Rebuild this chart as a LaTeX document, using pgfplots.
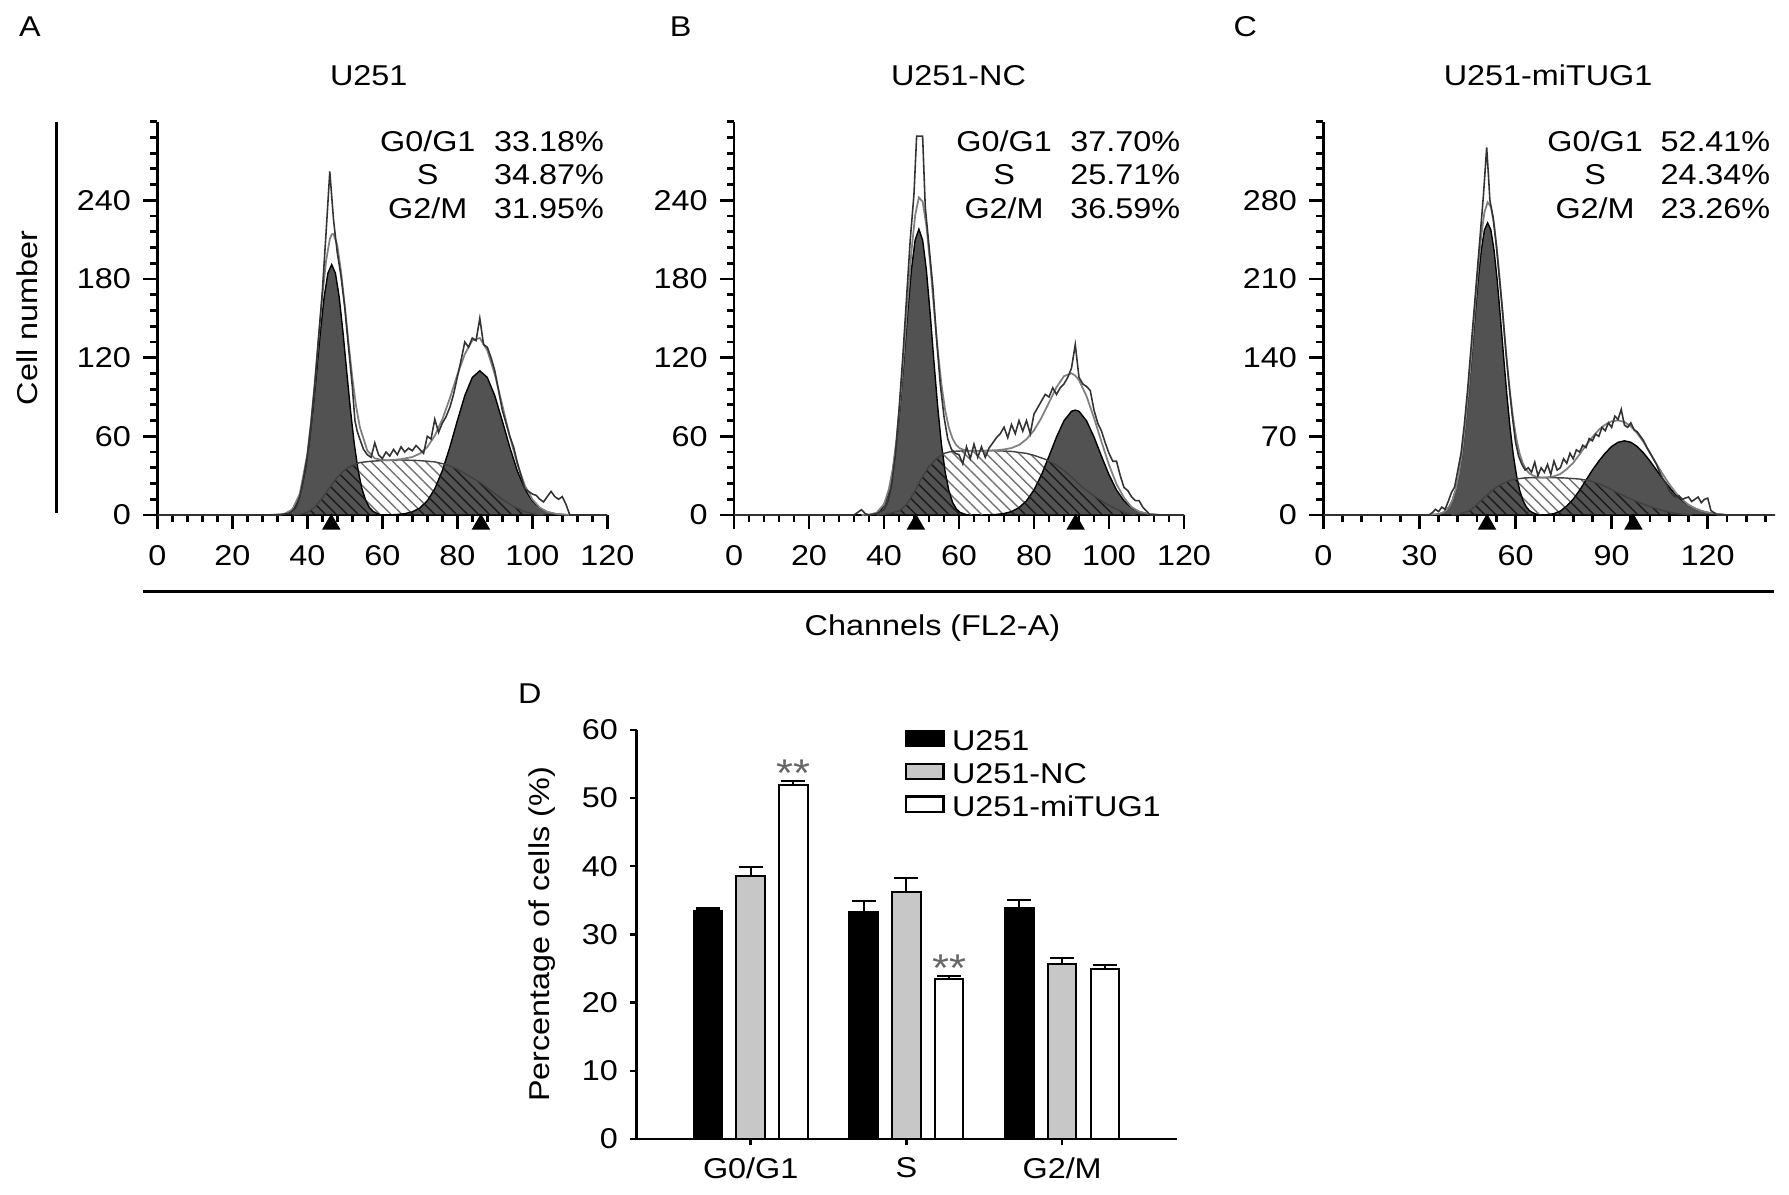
\documentclass[border=0pt]{standalone}
\usepackage{fontspec}
\setmainfont{Liberation Sans}[FakeStretch=1.13]
\usepackage{pgfplots}
\pgfplotsset{compat=1.18}
\usetikzlibrary{patterns.meta}
\definecolor{dk}{gray}{0.32}
\definecolor{ncgray}{gray}{0.78}
\newcommand\f{\fontsize{8.15}{9.6}\selectfont}
\pgfplotsset{
 hist/.style={scale only axis, width=4.5cm, height=3.933cm, anchor=south west,
  axis x line=bottom, axis y line=left, axis line style={-,line width=0.8pt},
  tick align=outside, major tick length=0.14cm, minor tick length=0.07cm,
  tick style={black,line width=0.8pt},
  xmin=0,xmax=120,ymin=0,ymax=300,
  xtick={0,20,...,120}, minor xtick={4,8,...,116},
  ytick={0,60,...,240}, minor ytick={12,24,...,300},
  tick label style={font=\f}, xticklabel style={yshift=-0.045cm}, /pgf/number format/assume math mode=true,
  clip=false},
 shat/.style={draw=none, pattern={Lines[angle=-45,distance=2.2pt,line width=0.4pt]}, pattern color=black!55},
 ohat/.style={draw=none, pattern={Lines[angle=-45,distance=2.2pt,line width=0.4pt]}, pattern color=black!90},
 gpk/.style={fill=dk, draw=black, line width=0.4pt},
 sline/.style={draw=black!75, line width=0.4pt},
 fitl/.style={draw=black!50, line width=0.5pt},
 rawl/.style={draw=black!80, line width=0.45pt},
 tri/.style={only marks, mark=triangle*, mark size=2.65pt, black},
 lgbox/.style={legend image code/.code={\draw[##1] (0cm,-0.0585cm) rectangle (0.377cm,0.0945cm);}},
 bstyle/.style={ybar, bar width=0.285cm, bar shift=0pt, draw=black, line width=0.6pt, lgbox,
  error bars/.cd, y dir=plus, y explicit, error bar style={line width=0.6pt,black}, error mark options={rotate=90,mark size=3.4pt,line width=0.6pt,black}},
}
\begin{document}
\begin{tikzpicture}[font=\f]
\path[use as bounding box] (0,0) rectangle (17.89,11.95);

% ---------------- Panel A ----------------
\begin{axis}[hist, at={(1.573cm,6.80cm)}]
\addplot[shat] coordinates {(36,0)(38,0.5)(40,2)(42,6)(44,13)(46,21)(48,29)(50,34.5)(52,38)(54,40)(57,41)(60,41.5)(65,42)(70,41.5)(74,40.5)(77,38.5)(80,35)(83,30)(86,25)(89,18.5)(92,12)(95,6.5)(98,2.5)(101,0.5)(103,0)} \closedcycle;
\addplot[gpk] coordinates {(33.5,0)(34.5,1.3)(35.5,2.9)(36.5,6.0)(37.5,11.6)(38.5,20.8)(39.5,35.0)(40.5,54.9)(41.5,80.4)(42.5,109.8)(43.5,139.9)(44.5,166.3)(45.5,184.5)(46.5,191)(47.5,184.5)(48.5,166.3)(49.5,139.9)(50.5,109.8)(51.5,80.4)(52.5,54.9)(53.5,35.0)(54.5,20.8)(55.5,11.6)(56.5,6.0)(57.5,2.9)(58.5,1.3)(59.5,0)} \closedcycle;
\addplot[gpk] coordinates {(62,0)(64,0.4)(66,1.0)(68,2.4)(70,5.3)(72,10.8)(74,20.0)(76,33.7)(78,51.6)(80,71.8)(82,91.0)(84,104.9)(86,110)(88,104.9)(90,91.0)(92,71.8)(94,51.6)(96,33.7)(98,20.0)(100,10.8)(102,5.3)(104,2.4)(106,1.0)(108,0.4)(110,0)} \closedcycle;
\addplot[ohat] coordinates {(36,0)(38,0.5)(40,2)(42,6)(44,13)(46,21)(48,29)(50,34.5)(52,38)(53.2,39.2)(53.5,35.0)(54.5,20.8)(55.5,11.6)(56.5,6.0)(57.5,2.9)(58.5,1.3)(59.5,0)} \closedcycle;
\addplot[ohat] coordinates {(62,0)(64,0.4)(66,1.0)(68,2.4)(70,5.3)(72,10.8)(74,20.0)(76,33.7)(76.7,38.8)(77,38.5)(80,35)(83,30)(86,25)(89,18.5)(92,12)(95,6.5)(98,2.5)(101,0.5)(103,0)} \closedcycle;
\addplot[sline] coordinates {(36,0)(38,0.5)(40,2)(42,6)(44,13)(46,21)(48,29)(50,34.5)(52,38)(54,40)(57,41)(60,41.5)(65,42)(70,41.5)(74,40.5)(77,38.5)(80,35)(83,30)(86,25)(89,18.5)(92,12)(95,6.5)(98,2.5)(101,0.5)(103,0)};
\addplot[fitl] coordinates {(30,0)(34,0.9)(36,4.2)(38,16.1)(40,46.2)(41,71)(42,100.7)(43,134.5)(44,166.8)(45,193.7)(46,210.4)(46.5,214)(47,214.4)(48,205.7)(49,185.6)(50,159.5)(51,131)(52,105)(53,83.2)(54,67.2)(56,49.1)(58,43.2)(60,41.9)(62,41.8)(65,42.6)(68,44.2)(70,46.8)(72,51.8)(74,60.5)(76,72.9)(78,88.9)(80,106.8)(82,122.7)(84,133.2)(86,135)(88,125.6)(90,107.3)(92,83.8)(94,59.9)(96,38.9)(98,22.5)(100,12)(102,5.6)(104,2.4)(106,1.0)(108,0.4)(110,0)};
\addplot[rawl] coordinates {(0,0)(33,0)(34,1)(35,1)(36,3)(37,6)(38,14)(39,28)(40,45)(41,70)(42,100)(43,135)(44,170)(45,215)(46,262)(47,225)(48,200)(49,182)(50,158)(51,128)(52,98)(52.7,72)(53.3,64)(54,58)(55,50)(56,46)(57,44)(58,55)(59,46)(60,43)(61,48)(62,45)(63,50)(64,46)(65,52)(66,48)(67,51)(68,49)(69,53)(70,50)(71,47)(72,60)(73,58)(74,73)(75,63)(76,70)(77,75)(78,82)(79,92)(80,105)(81,118)(82,132)(83,128)(84,135)(85,133)(86,150)(87,130)(88,128)(89,120)(90,110)(91,95)(92,80)(93,70)(94,60)(95,52)(96,40)(97,30)(98,20)(99,18)(100,16)(101,15)(102,12)(103,10)(104,14)(105,18)(106,14)(107,12)(108,14)(109,8)(110,0)(120,0)};
\addplot[tri] coordinates {(46.4,-7.12)(86.3,-7.12)};
\end{axis}

% ---------------- Panel B ----------------
\begin{axis}[hist, at={(7.34cm,6.80cm)}]
\addplot[shat] coordinates {(38,0)(40,0.5)(42,1.5)(44,3)(46,8)(48,17)(50,28)(52,37)(54,43)(56,47)(58,48.5)(62,49)(66,49)(70,49)(74,48.5)(78,47)(80,45.5)(83,42.5)(86,38)(88,34)(90,29)(93,21)(96,14.5)(99,9)(102,4.5)(105,1)(107,0)} \closedcycle;
\addplot[gpk] coordinates {(36.3,0)(37.3,0.85)(38.3,2.0)(39.3,4.6)(40.3,9.6)(41.3,18.5)(42.3,32.9)(43.3,54.3)(44.3,83.1)(45.3,117.5)(46.3,154.1)(47.3,186.8)(48.3,209.7)(49.3,218)(50.3,209.7)(51.3,186.8)(52.3,154.1)(53.3,117.5)(54.3,83.1)(55.3,54.3)(56.3,32.9)(57.3,18.5)(58.3,9.6)(59.3,4.6)(60.3,2.0)(61.3,0.85)(62.3,0)} \closedcycle;
\addplot[gpk] coordinates {(68,0)(70,0.43)(72,1.1)(74,2.6)(76,5.6)(78,10.8)(80,19.1)(82,30.7)(84,44.8)(86,59.5)(88,71.9)(90,79.1)(91,80)(92,79.1)(94,71.9)(96,59.5)(98,44.8)(100,30.7)(102,19.1)(104,10.8)(106,5.6)(108,2.6)(110,1.1)(112,0.43)(114,0)} \closedcycle;
\addplot[ohat] coordinates {(38,0)(40,0.5)(42,1.5)(44,3)(46,8)(48,17)(50,28)(52,37)(54,43)(55,45)(55.7,46)(56.3,32.9)(57.3,18.5)(58.3,9.6)(59.3,4.6)(60.3,2.0)(61.3,0.85)(62.3,0)} \closedcycle;
\addplot[ohat] coordinates {(68,0)(70,0.43)(72,1.1)(74,2.6)(76,5.6)(78,10.8)(80,19.1)(82,30.7)(83.6,41.7)(86,38)(88,34)(90,29)(93,21)(96,14.5)(99,9)(102,4.5)(105,1)(107,0)} \closedcycle;
\addplot[sline] coordinates {(38,0)(40,0.5)(42,1.5)(44,3)(46,8)(48,17)(50,28)(52,37)(54,43)(56,47)(58,48.5)(62,49)(66,49)(70,49)(74,48.5)(78,47)(80,45.5)(83,42.5)(86,38)(88,34)(90,29)(93,21)(96,14.5)(99,9)(102,4.5)(105,1)(107,0)};
\addplot[fitl] coordinates {(34,0)(36,0.3)(38,1.6)(40,8.2)(41.3,19.65)(42.3,34.6)(43.3,56.8)(44.3,86.9)(45.3,123.8)(46.3,163.5)(47.3,200.7)(48.3,228.4)(49.3,242.2)(50.3,239.1)(51.3,220.7)(52.3,192)(53.3,158.4)(54.3,126.7)(55.3,99.9)(56.3,80.1)(57.3,66.5)(58.3,58.1)(59.3,53.2)(60.3,50.7)(62,49)(66,49)(70,49.4)(72,50)(74,51.1)(76,53.4)(78,57.8)(80,64.6)(82,74.2)(84,85.8)(86,97.5)(88,105.9)(90,108.1)(91,106.3)(92,102.8)(94,90.7)(96,74)(98,55.8)(100,38.2)(102,23.6)(104,13.1)(106,6.1)(108,2.6)(110,1.1)(112,0.4)(114,0)};
\addplot[rawl] coordinates {(0,0)(32,0)(33,2)(34,4)(35,1)(36,0)(38,1)(40,4)(41,10)(42,22)(43,45)(44,80)(45,120)(46,165)(47,210)(48,245)(48.7,289)(50.3,289)(51,235)(52,205)(53,175)(54,135)(55,100)(56,75)(57,58)(58,50)(59,47)(60,46)(61,39)(62,52)(63,43)(64,54)(65,44)(66,52)(67,44)(68,51)(69,55)(70,59)(71,62)(72,67)(73,59)(74,69)(75,62)(76,72)(77,64)(78,72)(79,62)(80,77)(81,82)(82,87)(83,92)(84,90)(85,97)(86,92)(87,97)(88,100)(89,105)(90,112)(91,130)(92,105)(93,100)(94,98)(95,95)(96,80)(97,70)(98,64)(99,55)(100,47)(101,41)(102,41)(103,30)(104,21)(105,18.6)(106,14)(107,11)(108,11)(109,6)(110,3)(111,0)(120,0)};
\addplot[tri] coordinates {(48.5,-7.12)(91.1,-7.12)};
\end{axis}

% ---------------- Panel C ----------------
\begin{axis}[hist, at={(13.233cm,6.80cm)}, width=4.517cm, xmax=141, ymax=350,
  xtick={0,30,...,120}, minor xtick={6,12,...,138},
  ytick={0,70,...,280}, minor ytick={14,28,...,350}]
\addplot[shat] coordinates {(40,0)(42,0.5)(44,2)(46,4.5)(48,9.5)(50,15)(52,20)(54,24.5)(56,28)(58,30.5)(60,32)(63,33)(66,33.3)(70,33.3)(75,33)(80,32)(83,30.5)(86,28)(89,24)(92,19.5)(95,15.5)(98,11.8)(101,8.5)(104,5.5)(107,3.2)(110,1.5)(113,0.4)(115,0)} \closedcycle;
\addplot[gpk] coordinates {(35.3,0)(36.3,1.0)(37.3,2.1)(38.3,4.0)(39.3,7.4)(40.3,13.1)(41.3,22.0)(42.3,35.2)(43.3,53.6)(44.3,77.5)(45.3,106.9)(46.3,140.2)(47.3,175.2)(48.3,208.2)(49.3,235.5)(50.3,253.7)(51.3,260)(52.3,253.7)(53.3,235.5)(54.3,208.2)(55.3,175.2)(56.3,140.2)(57.3,106.9)(58.3,77.5)(59.3,53.6)(60.3,35.2)(61.3,22.0)(62.3,13.1)(63.3,7.4)(64.3,4.0)(65.3,2.1)(66.3,1.0)(67.3,0)} \closedcycle;
\addplot[gpk] coordinates {(68,0)(70,0.3)(72,1.2)(74,3.5)(76,8)(78,14)(80,22)(82,31)(84,40)(86,47.9)(88,55.1)(90,60.9)(92,64.7)(94,66)(96,64.7)(98,60.9)(100,55.1)(102,47.9)(104,40)(106,32.1)(108,24.8)(110,18.3)(112,13.1)(114,8.9)(116,5.9)(118,3.7)(120,2.2)(122,1.3)(124,0.7)(126,0)} \closedcycle;
\addplot[ohat] coordinates {(40,0)(42,0.5)(44,2)(46,4.5)(48,9.5)(50,15)(52,20)(54,24.5)(56,28)(58,30.5)(60,32)(60.5,32.2)(61.3,22.0)(62.3,13.1)(63.3,7.4)(64.3,4.0)(65.3,2.1)(66.3,1.0)(67.3,0)} \closedcycle;
\addplot[ohat] coordinates {(68,0)(70,0.3)(72,1.2)(74,3.5)(76,8)(78,14)(80,22)(82,31)(83,30.5)(86,28)(89,24)(92,19.5)(95,15.5)(98,11.8)(101,8.5)(104,5.5)(107,3.2)(110,1.5)(113,0.4)(115,0)} \closedcycle;
\addplot[sline] coordinates {(40,0)(42,0.5)(44,2)(46,4.5)(48,9.5)(50,15)(52,20)(54,24.5)(56,28)(58,30.5)(60,32)(63,33)(66,33.3)(70,33.3)(75,33)(80,32)(83,30.5)(86,28)(89,24)(92,19.5)(95,15.5)(98,11.8)(101,8.5)(104,5.5)(107,3.2)(110,1.5)(113,0.4)(115,0)};
\addplot[fitl] coordinates {(32,0)(36.3,1)(37.3,2.1)(38.3,4.0)(39.3,7.4)(40.3,13.2)(41.3,22.3)(42.3,36)(43.3,55.1)(44.3,79.8)(45.3,110.5)(46.3,145.4)(47.3,182.7)(48.3,218.2)(49.3,248.3)(50.3,269.5)(51.3,278.3)(52.3,274.4)(53.3,258.8)(54.3,233.5)(55.3,202.3)(56.3,168.6)(57.3,136.5)(58.3,108.4)(59.3,85.1)(60.3,67.3)(61.3,54.4)(62.3,45.9)(63.3,40.4)(64.3,37.1)(65.3,35.3)(66.3,34.3)(68,33.3)(70,33.6)(72,34.4)(74,36.5)(76,40.8)(78,46.4)(80,54)(82,62)(84,69.3)(86,75.9)(88,80.4)(90,83.4)(92,84.2)(94,82.8)(96,78.9)(98,72.7)(100,64.7)(102,55.4)(104,45.5)(106,36.1)(108,27.5)(110,19.8)(112,13.9)(114,9.1)(116,5.9)(118,3.7)(120,2.2)(122,1.3)(124,0.7)(126,0)};
\addplot[rawl] coordinates {(0,0)(33,0)(34,2)(35,5)(36,3)(37,7)(38,5)(39,12)(40,20)(41,25)(42,40)(43,55)(44,80)(45,110)(46,145)(47,180)(48,215)(49,250)(50,285)(51,327)(51.6,300)(52,280)(53,265)(54,240)(55,210)(56,180)(57,145)(58,115)(59,88)(60,65)(61,52)(62,45)(63,40)(64,42)(65,38)(66,47)(67,35)(68,42)(69,38)(70,45)(71,36)(72,48)(73,40)(74,42)(75,50)(76,46)(77,55)(78,50)(79,58)(80,56)(81,62)(82,60)(83,68)(84,66)(85,72)(86,70)(87,78)(88,75)(89,82)(90,78)(91,88)(92,85)(93,94)(94,80)(95,78)(96,82)(97,76)(98,74)(99,70)(100,66)(101,60)(102,55)(103,50)(104,45)(105,38)(106,32)(107,28)(108,22)(109,18)(110,16)(111,17)(112,14)(113,15)(114,16)(115,12)(116,14)(117,16)(118,11)(119,14)(120,15)(121,4)(122,2)(123,0)(141,0)};
\addplot[tri] coordinates {(51.1,-8.30)(96.8,-8.30)};
\end{axis}

% ---------------- Panel D ----------------
\begin{axis}[scale only axis, width=5.402cm, height=4.092cm, anchor=south west, at={(6.367cm,0.56cm)},
 axis x line=bottom, axis y line=left, axis line style={-,line width=0.7pt},
 xmin=-0.732, xmax=2.737, ymin=0, ymax=60,
 xtick={0,1,2}, xticklabels={G0/G1,S,G2/M}, ytick={0,10,...,60},
 tick align=outside, major tick length=0.065cm, tick style={black,line width=0.7pt},
 tick label style={font=\f}, /pgf/number format/assume math mode=true,
 ylabel={Percentage of cells (\%)}, ylabel style={at={(axis description cs:-0.1753,0.5)}, anchor=center, font=\f},
 legend style={at={(axis cs:0.989,60.0)}, anchor=north west, draw=none, fill=none, inner sep=0pt, outer sep=0pt, row sep=3.4pt, font=\f, nodes={inner sep=0pt, text height=5.9pt, text depth=0pt}, /tikz/every odd column/.append style={column sep=0.076cm}},
 legend cell align=left]
\addplot[fill=black, bstyle] coordinates {(-0.2742,33.4) +- (0,0.4) (0.7258,33.3) +- (0,1.6) (1.7258,33.8) +- (0,1.3)};
\addlegendentry{U251}
\addplot[fill=ncgray, bstyle] coordinates {(0,38.6) +- (0,1.3) (1,36.2) +- (0,2.1) (2,25.6) +- (0,1.0)};
\addlegendentry{U251-NC}
\addplot[fill=white, bstyle] coordinates {(0.2742,51.9) +- (0,0.6) (1.2742,23.5) +- (0,0.35) (2.2742,24.9) +- (0,0.6)};
\addlegendentry{U251-miTUG1}
\node[text=black!60, font=\fontsize{11}{12}\selectfont] at (axis cs:0.2742,53.6) {**};
\node[text=black!60, font=\fontsize{11}{12}\selectfont] at (axis cs:1.2742,25.0) {**};
\end{axis}

% ---------------- Texts and frame lines ----------------
\begin{scope}[yshift=11.95cm, x=0.01cm, y=-0.01cm]
\node[anchor=base] at (30,37) {A};
\node[anchor=base] at (681,37) {B};
\node[anchor=base] at (1246,37) {C};
\node[anchor=base] at (530,703.6) {D};
\node[anchor=base] at (369,85.4) {U251};
\node[anchor=base] at (959,85.4) {U251-NC};
\node[anchor=base] at (1549,85.4) {U251-miTUG1};
\node[anchor=base] at (428,151.3) {G0/G1};
\node[anchor=base] at (428,185) {S};
\node[anchor=base] at (428,218.7) {G2/M};
\node[anchor=base east,inner sep=0pt] at (605,151.3) {33.18\%};
\node[anchor=base east,inner sep=0pt] at (605,185) {34.87\%};
\node[anchor=base east,inner sep=0pt] at (605,218.7) {31.95\%};
\node[anchor=base] at (1004.7,151.3) {G0/G1};
\node[anchor=base] at (1004.7,185) {S};
\node[anchor=base] at (1004.7,218.7) {G2/M};
\node[anchor=base east,inner sep=0pt] at (1181.5,151.3) {37.70\%};
\node[anchor=base east,inner sep=0pt] at (1181.5,185) {25.71\%};
\node[anchor=base east,inner sep=0pt] at (1181.5,218.7) {36.59\%};
\node[anchor=base] at (1596,151.3) {G0/G1};
\node[anchor=base] at (1596,185) {S};
\node[anchor=base] at (1596,218.7) {G2/M};
\node[anchor=base east,inner sep=0pt] at (1772,151.3) {52.41\%};
\node[anchor=base east,inner sep=0pt] at (1772,185) {24.34\%};
\node[anchor=base east,inner sep=0pt] at (1772,218.7) {23.26\%};
\node[rotate=90] at (27.5,318) {Cell number};
\draw[line width=0.8pt] (56.7,121.7) -- (56.7,513);
\draw[line width=0.8pt] (143,591.7) -- (1775,591.7);
\node[anchor=base] at (933,635.6) {Channels (FL2-A)};
\end{scope}
\end{tikzpicture}
\end{document}
